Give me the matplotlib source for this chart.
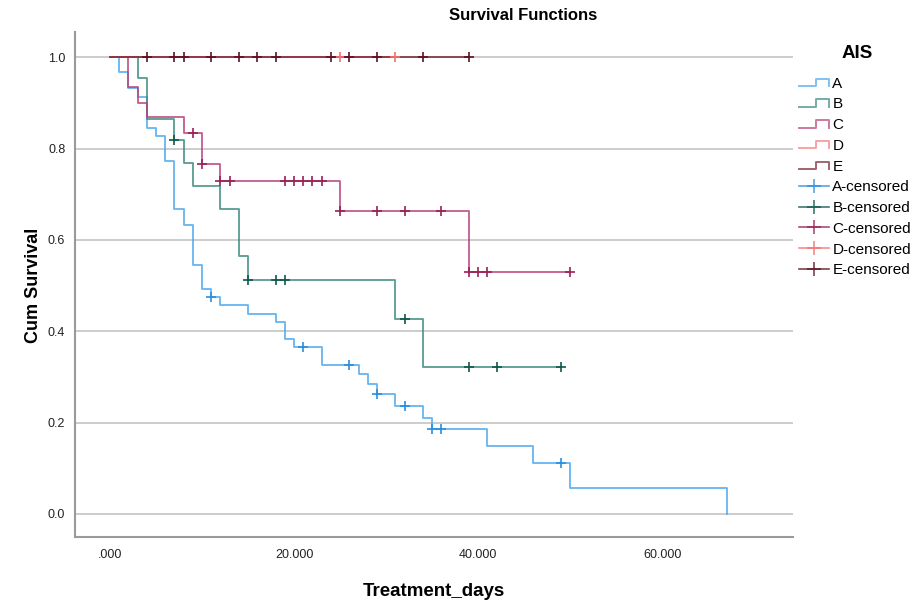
import numpy as np
import matplotlib
matplotlib.use("Agg")
import matplotlib.pyplot as plt
from matplotlib.lines import Line2D
from matplotlib.legend_handler import HandlerBase

plt.rcParams['font.family'] = ['Liberation Sans', 'DejaVu Sans']

# step functions (time, cumulative survival) per AIS group
a_times = [0, 1, 2, 3, 4, 5, 6, 7, 8, 9, 10, 11, 12, 15, 18, 19, 20, 23, 27, 28, 29, 31, 34, 35, 41, 46, 50, 67]
a_surv = [1.0, 0.967, 0.933, 0.913, 0.846, 0.827, 0.773, 0.668, 0.632, 0.545, 0.493, 0.476, 0.457, 0.438,
          0.420, 0.383, 0.365, 0.327, 0.306, 0.284, 0.262, 0.237, 0.211, 0.186, 0.148, 0.111, 0.056, 0.0]
a_cens = [11, 21, 26, 29, 32, 35, 36, 49]

b_times = [0, 3, 4, 7, 8, 9, 12, 14, 15, 31, 34, 49]
b_surv = [1.0, 0.955, 0.866, 0.818, 0.769, 0.718, 0.667, 0.564, 0.513, 0.427, 0.321, 0.321]
b_cens = [7, 15, 18, 19, 32, 39, 42, 49]

c_times = [0, 2, 3, 4, 8, 10, 12, 25, 39, 50]
c_surv = [1.0, 0.934, 0.901, 0.869, 0.835, 0.767, 0.729, 0.663, 0.530, 0.530]
c_cens = [9, 10, 12, 13, 19, 20, 21, 22, 23, 25, 29, 32, 36, 39, 40, 41, 50]

d_times = [0, 31]
d_surv = [1.0, 1.0]
d_cens = [25, 31]

e_times = [0, 39]
e_surv = [1.0, 1.0]
e_cens = [4, 7, 8, 11, 14, 16, 18, 24, 26, 29, 34, 39]

groups = ["A", "B", "C", "D", "E"]
line_colors = ["#4aa8ee", "#3a8a7f", "#b8407a", "#f57c7c", "#7d2230"]
cens_colors = ["#2a8ee0", "#10584d", "#9a2058", "#f27070", "#5e1020"]

series = [(a_times, a_surv, a_cens), (b_times, b_surv, b_cens), (c_times, c_surv, c_cens),
          (d_times, d_surv, d_cens), (e_times, e_surv, e_cens)]


class StepHandler(HandlerBase):
    """Legend symbol shaped like a small step."""
    def create_artists(self, legend, orig_handle, xdescent, ydescent, width, height, fontsize, trans):
        xs = np.array([0, 0.55, 0.55, 1.0, 1.0]) * width - xdescent
        ys = np.array([0.15, 0.15, 0.85, 0.85, 0.15]) * height - ydescent
        ln = Line2D(xs, ys, color=orig_handle.get_color(), lw=1.4, alpha=0.7)
        ln.set_transform(trans)
        return [ln]


fig = plt.figure(figsize=(9.17, 6.07), dpi=100)
ax = fig.add_axes([75 / 917, 1 - 537 / 607, (793 - 75) / 917, (537 - 32) / 607])

for (t, s, c), col in zip(series, line_colors):
    ax.step(t, s, where='post', color=col, lw=1.3, alpha=0.85, zorder=3)

for (t, s, c), col in zip(series, cens_colors):
    idx = np.searchsorted(t, c, side='right') - 1
    yv = np.array(s)[idx]
    ax.plot(c, yv, linestyle='none', marker='+', markersize=7.5, mew=1.2, color=col, zorder=4)

ax.set_xlim(-3.8, 74.2)
ax.set_ylim(-0.0505, 1.0555)
ax.set_xticks([0, 20, 40, 60])
ax.set_xticklabels([".000", "20.000", "40.000", "60.000"])
ax.set_yticks([0.0, 0.2, 0.4, 0.6, 0.8, 1.0])
ax.set_yticklabels(["0.0", "0.2", "0.4", "0.6", "0.8", "1.0"])
ax.tick_params(axis='both', length=0, labelsize=9, colors='#222222')
ax.tick_params(axis='y', pad=7)
ax.tick_params(axis='x', pad=9)
ax.yaxis.grid(True, color='#c8c8c8', lw=1.3)
ax.set_axisbelow(True)
for side in ['top', 'right']:
    ax.spines[side].set_visible(False)
for side in ['left', 'bottom']:
    ax.spines[side].set_color('#9a9a9a')
    ax.spines[side].set_linewidth(1.5)

fig.text(523 / 917, 1 - 16 / 607, "Survival Functions", ha='center', va='center',
         fontsize=12, fontweight='bold')
fig.text(434 / 917, 1 - 592 / 607, "Treatment_days", ha='center', va='center',
         fontsize=13.5, fontweight='bold')
fig.text(33 / 917, 1 - 285 / 607, "Cum Survival", ha='center', va='center',
         rotation=90, fontsize=13, fontweight='bold')
fig.text(857 / 917, 1 - 53 / 607, "AIS", ha='center', va='center',
         fontsize=13.5, fontweight='bold')

handles = [Line2D([0], [0], color=col) for col in line_colors]
handles += [Line2D([0], [0], color=col, marker='+', markersize=10, mew=1.2, lw=1.2, alpha=0.8)
            for col in cens_colors]
labels = groups + [g + "-censored" for g in groups]
handler_map = {h: StepHandler() for h in handles[:5]}
leg = fig.legend(handles, labels, handler_map=handler_map, loc='upper left',
                 bbox_to_anchor=(785 / 917, 1 - 63 / 607), frameon=False, fontsize=11,
                 handlelength=2.0, handletextpad=0.2, labelspacing=0.44)

fig.savefig("out.png", dpi=100)
